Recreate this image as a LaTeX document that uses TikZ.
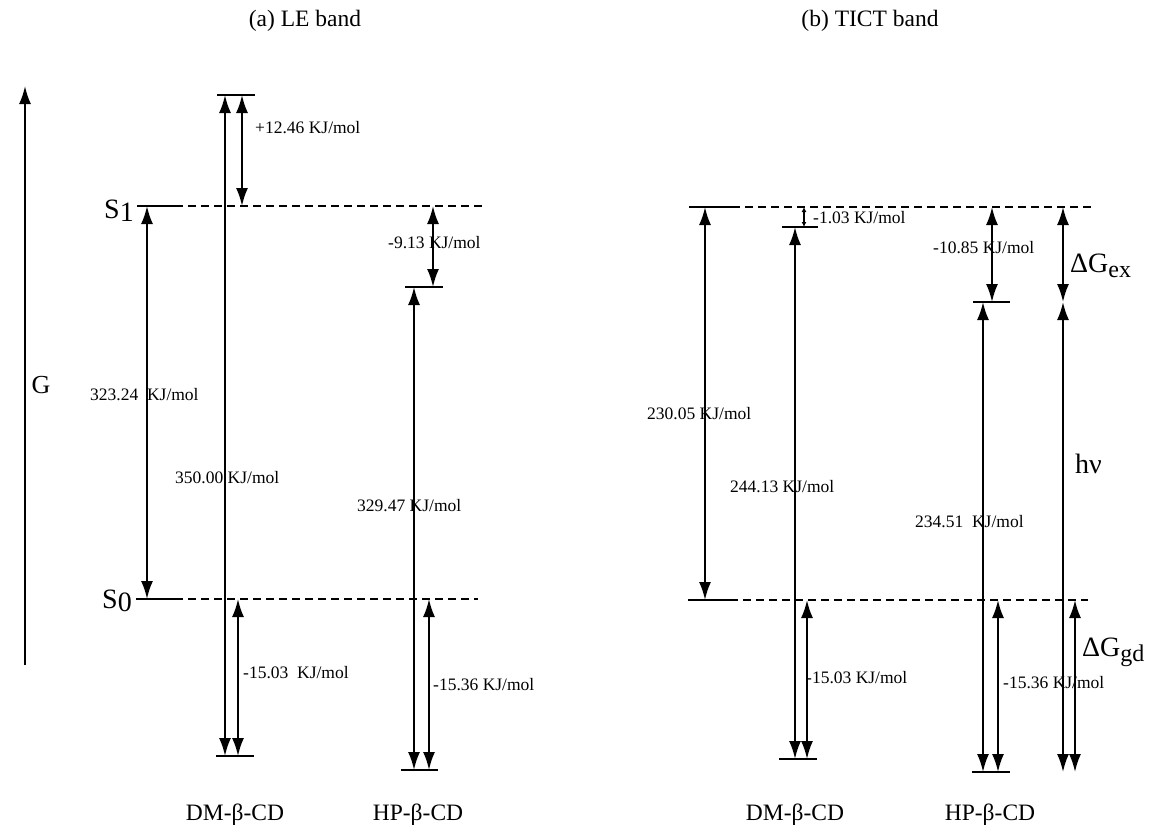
\documentclass[tikz,border=0pt]{standalone}
\usepackage{fontspec}
\setmainfont{Liberation Serif}
\usetikzlibrary{arrows.meta}
\tikzset{
  dbl/.style={line width=2pt,{Latex[length=18pt,width=12pt]}-{Latex[length=18pt,width=12pt]}},
  tiny/.style={line width=1.4pt,{Latex[length=5pt,width=5pt]}-{Latex[length=5pt,width=5pt]}},
  lev/.style={line width=2.2pt},
  dsh/.style={line width=1.8pt,dash pattern=on 8pt off 5pt},
  lbl/.style={font=\fontsize{17.5}{18}\selectfont,anchor=west,inner sep=0pt},
  ttl/.style={font=\fontsize{23.5}{25}\selectfont,inner sep=0pt},
  big/.style={font=\fontsize{28}{30}\selectfont,inner sep=0pt}
}
\begin{document}
\begin{tikzpicture}[x=1pt,y=-1pt]
\useasboundingbox (0,0) rectangle (1149,833);
% titles
\node[ttl] (ta) at (305,21) {(a) LE band};
\node[ttl] (tb) at (870,21) {(b) TICT band};
% G axis
\coordinate (g0) at (25,665); \coordinate (g1) at (25,86);
\draw[line width=2pt,-{Latex[length=18pt,width=12pt]}] (g0) -- (g1);
\node[font=\fontsize{26}{28}\selectfont,inner sep=0pt] (G) at (41,385) {G};
\node[big,anchor=east] (S1) at (134,211) {S\raisebox{-3pt}{1}};
\node[big,anchor=east] (S0) at (132,601) {S\raisebox{-3pt}{0}};
% ---------- left panel levels
\coordinate (aS1a) at (137,206); \coordinate (aS1b) at (175,206); \coordinate (aS1c) at (483,206);
\coordinate (aS0a) at (136,599); \coordinate (aS0b) at (175,599); \coordinate (aS0c) at (478,599);
\draw[lev] (aS1a) -- (aS1b); \draw[dsh] (aS1b) -- (aS1c);
\draw[lev] (aS0a) -- (aS0b); \draw[dsh] (aS0b) -- (aS0c);
\coordinate (aTa) at (217,95); \coordinate (aTb) at (255,95); \draw[lev] (aTa) -- (aTb);
\coordinate (aDa) at (216,756); \coordinate (aDb) at (254,756); \draw[lev] (aDa) -- (aDb);
\coordinate (aHa) at (405,287); \coordinate (aHb) at (443,287); \draw[lev] (aHa) -- (aHb);
\coordinate (aBa) at (401,770); \coordinate (aBb) at (438,770); \draw[lev] (aBa) -- (aBb);
% left arrows
\coordinate (p1) at (147,206); \coordinate (p2) at (147,599); \draw[dbl] (p1) -- (p2);
\coordinate (p3) at (225,95); \coordinate (p4) at (225,756); \draw[dbl] (p3) -- (p4);
\coordinate (p5) at (242,95); \coordinate (p6) at (242,206); \draw[dbl] (p5) -- (p6);
\coordinate (p7) at (238,599); \coordinate (p8) at (238,756); \draw[dbl] (p7) -- (p8);
\coordinate (p9) at (433,206); \coordinate (p10) at (433,287); \draw[dbl] (p9) -- (p10);
\coordinate (p11) at (414,287); \coordinate (p12) at (414,770); \draw[dbl] (p11) -- (p12);
\coordinate (p13) at (429,599); \coordinate (p14) at (429,770); \draw[dbl] (p13) -- (p14);
% left labels
\node[lbl] (l1) at (255,128) {+12.46 KJ/mol};
\node[lbl] (l2) at (388,243) {-9.13 KJ/mol};
\node[lbl] (l3) at (90,395) {323.24\ \ KJ/mol};
\node[lbl] (l4) at (175,478) {350.00 KJ/mol};
\node[lbl] (l5) at (357,506) {329.47 KJ/mol};
\node[lbl] (l6) at (243,673) {-15.03\ \ KJ/mol};
\node[lbl] (l7) at (433,685) {-15.36 KJ/mol};
% ---------- right panel levels
\coordinate (bS1a) at (689,207); \coordinate (bS1b) at (732,207); \coordinate (bS1c) at (1093,207);
\coordinate (bS0a) at (688,600); \coordinate (bS0b) at (730,600); \coordinate (bS0c) at (1088,600);
\draw[lev] (bS1a) -- (bS1b); \draw[dsh] (bS1b) -- (bS1c);
\draw[lev] (bS0a) -- (bS0b); \draw[dsh] (bS0b) -- (bS0c);
\coordinate (bDa) at (782,227); \coordinate (bDb) at (818,227); \draw[lev] (bDa) -- (bDb);
\coordinate (bEa) at (779,759); \coordinate (bEb) at (817,759); \draw[lev] (bEa) -- (bEb);
\coordinate (bHa) at (973,302); \coordinate (bHb) at (1010,302); \draw[lev] (bHa) -- (bHb);
\coordinate (bBa) at (972,772); \coordinate (bBb) at (1010,772); \draw[lev] (bBa) -- (bBb);
% right arrows
\coordinate (q1) at (705,207); \coordinate (q2) at (705,600); \draw[dbl] (q1) -- (q2);
\coordinate (q3) at (804,207); \coordinate (q4) at (804,227); \draw[tiny] (q3) -- (q4);
\coordinate (q5) at (795,227); \coordinate (q6) at (795,759); \draw[dbl] (q5) -- (q6);
\coordinate (q7) at (807,600); \coordinate (q8) at (807,759); \draw[dbl] (q7) -- (q8);
\coordinate (q9) at (992,207); \coordinate (q10) at (992,302); \draw[dbl] (q9) -- (q10);
\coordinate (q11) at (983,302); \coordinate (q12) at (983,772); \draw[dbl] (q11) -- (q12);
\coordinate (q13) at (998,600); \coordinate (q14) at (998,772); \draw[dbl] (q13) -- (q14);
\coordinate (q15) at (1063,207); \coordinate (q16) at (1063,302); \draw[dbl] (q15) -- (q16);
\coordinate (q17) at (1063,302); \coordinate (q18) at (1063,772); \draw[dbl] (q17) -- (q18);
\coordinate (q19) at (1075,600); \coordinate (q20) at (1075,772); \draw[dbl] (q19) -- (q20);
% right labels
\node[lbl] (r1) at (813,218) {-1.03 KJ/mol};
\node[lbl] (r2) at (933,248) {-10.85 KJ/mol};
\node[lbl] (r3) at (647,414) {230.05 KJ/mol};
\node[lbl] (r4) at (730,487) {244.13 KJ/mol};
\node[lbl] (r5) at (915,522) {234.51\ \ KJ/mol};
\node[lbl] (r6) at (806,678) {-15.03 KJ/mol};
\node[lbl] (r7) at (1003,683) {-15.36 KJ/mol};
\node[big,anchor=west] (dgex) at (1070,266) {ΔG\raisebox{-5pt}{\fontsize{24}{24}\selectfont ex}};
\node[big,anchor=west] (hnu) at (1075,464) {hν};
\node[big,anchor=west] (dggd) at (1082,652) {ΔG\raisebox{-5pt}{\fontsize{24}{24}\selectfont gd}};
% bottom labels
\node[ttl] (b1) at (235,815) {DM-β-CD};
\node[ttl] (b2) at (418,815) {HP-β-CD};
\node[ttl] (b3) at (795,815) {DM-β-CD};
\node[ttl] (b4) at (990,815) {HP-β-CD};
\end{tikzpicture}
\end{document}
